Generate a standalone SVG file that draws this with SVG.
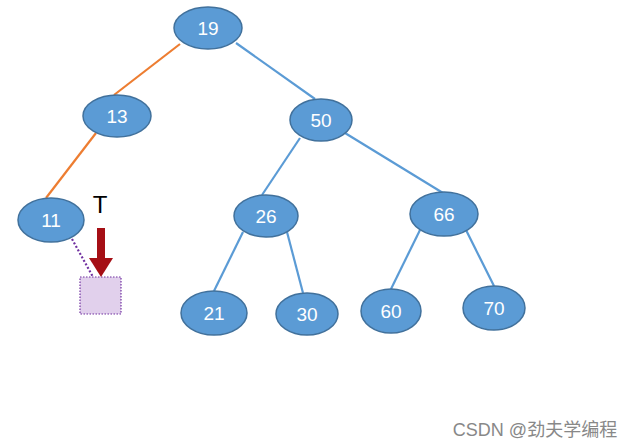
<svg xmlns="http://www.w3.org/2000/svg" width="637" height="447" viewBox="0 0 637 447">
<style>
.n ellipse{fill:#5b9bd5;stroke:#41719c;stroke-width:1.5}
.n text{fill:#fff;font-family:"Liberation Sans",Arial,sans-serif;font-size:19px;text-anchor:middle;dominant-baseline:central}
.e{stroke:#5b9bd5;stroke-width:2.2;fill:none}
.o{stroke:#ed7d31;stroke-width:2.2;fill:none}
</style>
<rect width="637" height="447" fill="#fff"/>
<g id="connectors">
<line class="o" x1="180" y1="44" x2="114" y2="95"/>
<line class="e" x1="236" y1="43" x2="315" y2="99"/>
<line class="o" x1="96" y1="133" x2="46" y2="198"/>
<line class="e" x1="300" y1="138" x2="262" y2="195"/>
<line class="e" x1="345" y1="133" x2="443" y2="193"/>
<line class="e" x1="243" y1="232" x2="214" y2="291"/>
<line class="e" x1="287" y1="232" x2="303" y2="293"/>
<line class="e" x1="420" y1="230" x2="391" y2="289"/>
<line class="e" x1="466" y1="230" x2="494" y2="286"/>
<line x1="72" y1="239" x2="93" y2="277" stroke="#7030a0" stroke-width="2.2" stroke-dasharray="2,2"/>
</g>
<g id="n19" class="n"><ellipse cx="208" cy="28" rx="34" ry="21"/><text x="208" y="28">19</text></g>
<g id="n13" class="n"><ellipse cx="117" cy="116" rx="34" ry="21"/><text x="117" y="116">13</text></g>
<g id="n50" class="n"><ellipse cx="321" cy="120" rx="31" ry="21"/><text x="321" y="120">50</text></g>
<g id="n11" class="n"><ellipse cx="51" cy="220" rx="33" ry="22"/><text x="51" y="220">11</text></g>
<g id="n26" class="n"><ellipse cx="266" cy="216" rx="32" ry="21"/><text x="266" y="216">26</text></g>
<g id="n66" class="n"><ellipse cx="444" cy="214" rx="34" ry="22"/><text x="444" y="214">66</text></g>
<g id="n21" class="n"><ellipse cx="214" cy="313" rx="33" ry="22"/><text x="214" y="313">21</text></g>
<g id="n30" class="n"><ellipse cx="307" cy="314" rx="31" ry="21"/><text x="307" y="314">30</text></g>
<g id="n60" class="n"><ellipse cx="391" cy="311" rx="30" ry="22"/><text x="391" y="311">60</text></g>
<g id="n70" class="n"><ellipse cx="494" cy="308" rx="31" ry="22"/><text x="494" y="308">70</text></g>
<g id="nullnode">
<rect x="80" y="277" width="41" height="37" fill="#e1d0ec" stroke="#7030a0" stroke-width="1.2" stroke-dasharray="1.5,1.5"/>
</g>
<g id="pointerT">
<text x="100" y="213" font-family="Liberation Sans,Arial,sans-serif" font-size="24" text-anchor="middle">T</text>
<rect x="97" y="228" width="8" height="32" fill="#a50f15"/>
<polygon points="89,258 113,258 101,277" fill="#a50f15"/>
</g>
<text x="535" y="436" font-family="Liberation Sans,'Noto Sans CJK SC',sans-serif" font-size="18" fill="#888" text-anchor="middle">CSDN @劲夫学编程</text>
</svg>
